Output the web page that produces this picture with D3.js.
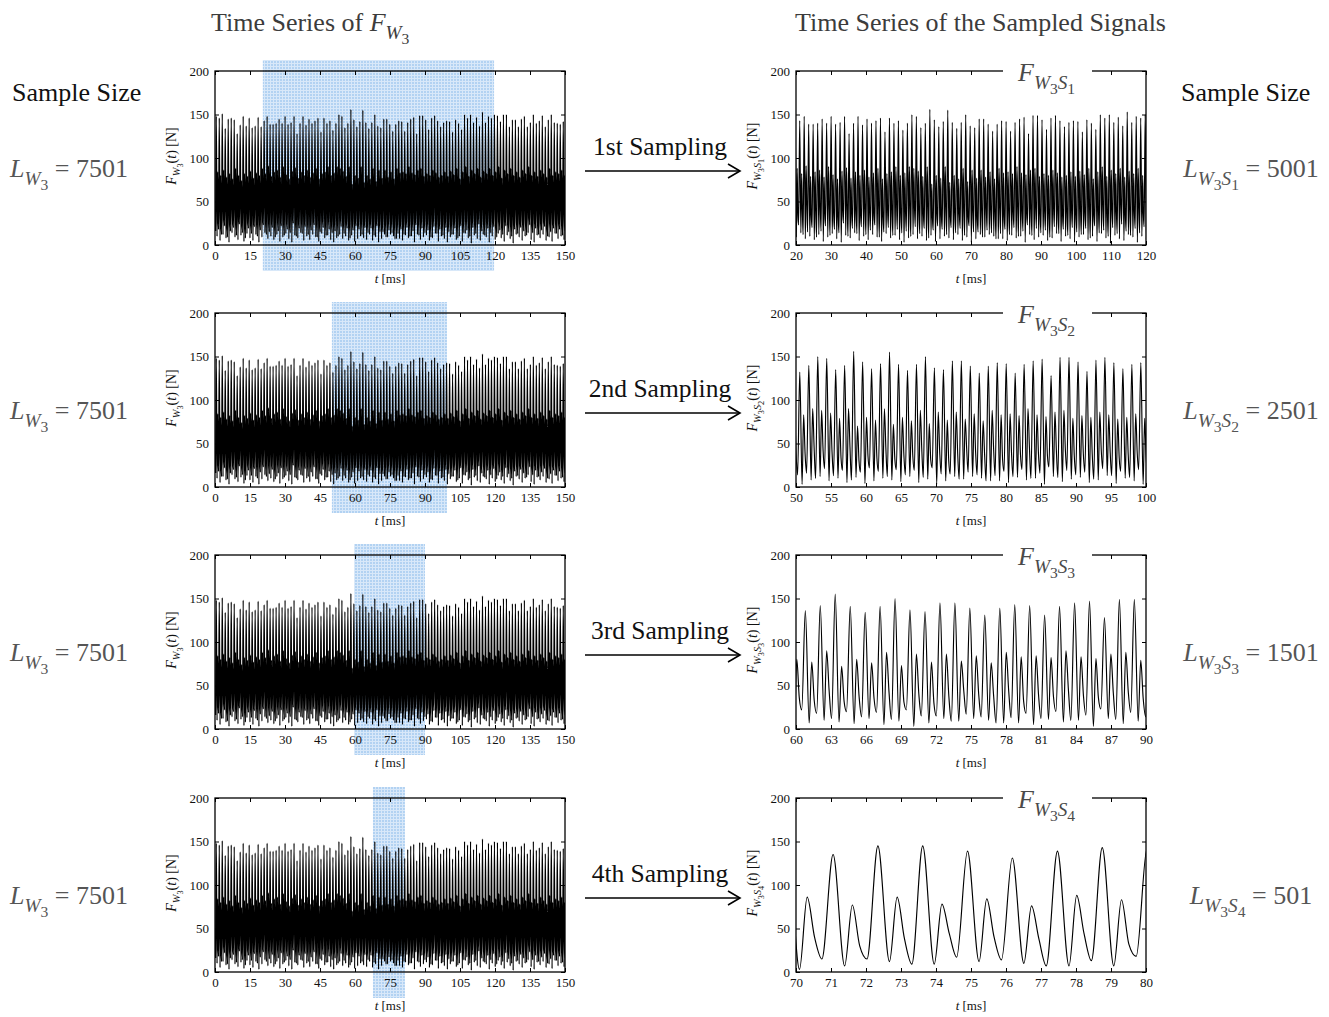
<!DOCTYPE html>
<html>
<head>
<meta charset="utf-8">
<script src="https://cdn.jsdelivr.net/npm/d3@7"></script>
<style>
  body { margin: 0; background: #fff; }
  svg { display: block; }
  text { font-family: "Liberation Serif", "Times New Roman", serif; white-space: pre; }
</style>
</head>
<body>
<svg id="chart" width="1329" height="1017"></svg>
<script>
// ---- Wheel force F_W3(t): one entry per load cycle (main peak and its neighbouring extrema) ----
const peakTime = [
  0.55, 1.83, 3.11, 4.39, 5.67, 6.96, 8.24, 9.52, 10.80, 12.08,
  13.37, 14.65, 15.93, 17.21, 18.49, 19.78, 21.06, 22.34, 23.62, 24.90,
  26.19, 27.47, 28.75, 30.03, 31.31, 32.60, 33.88, 35.16, 36.44, 37.72,
  39.01, 40.29, 41.57, 42.85, 44.13, 45.42, 46.70, 47.98, 49.26, 50.54,
  51.83, 53.11, 54.39, 55.67, 56.95, 58.24, 59.52, 60.80, 62.08, 63.36,
  64.65, 65.93, 67.21, 68.49, 69.77, 71.06, 72.34, 73.62, 74.90, 76.18,
  77.47, 78.75, 80.03, 81.31, 82.59, 83.88, 85.16, 86.44, 87.72, 89.00,
  90.29, 91.57, 92.85, 94.13, 95.41, 96.70, 97.98, 99.26, 100.54, 101.82,
  103.11, 104.39, 105.67, 106.95, 108.23, 109.52, 110.80, 112.08, 113.36, 114.64,
  115.93, 117.21, 118.49, 119.77, 121.05, 122.34, 123.62, 124.90, 126.18, 127.46,
  128.75, 130.03, 131.31, 132.59, 133.87, 135.16, 136.44, 137.72, 139.00, 140.28,
  141.57, 142.85, 144.13, 145.41, 146.69, 147.98, 149.26
];
const bigPeak = [
  148, 146, 151, 134, 145, 146, 144, 128, 138, 148,
  137, 146, 135, 137, 147, 136, 143, 148, 139, 139,
  140, 145, 140, 148, 139, 141, 148, 128, 140, 148,
  138, 145, 140, 143, 146, 130, 146, 140, 143, 132,
  140, 150, 148, 135, 140, 156, 144, 136, 142, 155,
  141, 134, 141, 150, 137, 135, 145, 145, 139, 131,
  139, 143, 142, 131, 141, 145, 147, 128, 149, 149,
  144, 133, 146, 149, 143, 136, 141, 143, 142, 130,
  144, 140, 133, 150, 146, 150, 141, 147, 137, 153,
  141, 148, 146, 150, 149, 142, 150, 150, 136, 144,
  144, 136, 145, 148, 136, 141, 150, 140, 143, 149,
  136, 144, 150, 141, 140, 139, 142
];
const lowAfterPeak = [
  10, 5, 12, 8, 3, 14, 9, 6, 11, 4,
  13, 8, 5, 12, 3, 9, 14, 7, 10, 6,
  12, 4, 9, 13, 7, 3, 11, 8, 14, 5,
  10, 6, 12, 9, 4, 13, 8, 11, 6, 3,
  8, 12, 7, 10, 5, 11, 4, 7, 10, 8,
  6, 12, 5, 9, 3, 7, 12, 9, 12, 10,
  7, 7, 5, 11, 8, 10, 3, 12, 6, 9,
  11, 5, 8, 13, 4, 10, 7, 3, 9, 12,
  6, 10, 4, 13, 8, 2, 11, 7, 5, 12,
  9, 3, 10, 6, 13, 8, 4, 11, 7, 2,
  12, 9, 5, 10, 14, 6, 3, 11, 8, 12,
  5, 9, 4, 13, 7, 10, 6
];
const minorPeak = [
  84, 80, 86, 78, 82, 76, 88, 80, 74, 82,
  79, 85, 77, 83, 80, 88, 82, 91, 79, 84,
  86, 78, 90, 81, 76, 85, 89, 77, 84, 80,
  86, 78, 83, 88, 76, 82, 84, 90, 80, 83,
  90, 88, 85, 79, 90, 70, 80, 77, 90, 72,
  80, 76, 88, 73, 86, 77, 86, 78, 84, 76,
  88, 83, 84, 82, 90, 83, 81, 86, 88, 79,
  82, 80, 86, 83, 78, 80, 84, 79, 85, 81,
  88, 76, 84, 90, 79, 86, 82, 88, 78, 85,
  82, 88, 80, 84, 90, 77, 86, 82, 88, 80,
  84, 78, 86, 82, 90, 80, 84, 79, 86, 82,
  78, 88, 80, 84, 82, 86, 80
];
const shoulder = [
  38, 32, 44, 35, 40, 30, 46, 36, 33, 42,
  35, 40, 31, 45, 37, 34, 41, 48, 33, 39,
  43, 36, 47, 34, 31, 40, 45, 35, 38, 33,
  42, 37, 34, 46, 32, 39, 41, 47, 36, 38,
  45, 42, 40, 34, 46, 30, 36, 33, 44, 32,
  37, 35, 43, 31, 40, 30, 38, 44, 40, 38,
  44, 32, 39, 37, 45, 38, 36, 41, 43, 35,
  38, 36, 42, 39, 34, 37, 40, 35, 41, 36,
  44, 33, 39, 46, 35, 42, 37, 48, 34, 40,
  38, 44, 36, 39, 45, 33, 41, 37, 43, 35,
  39, 34, 42, 38, 46, 36, 40, 35, 42, 37,
  34, 44, 36, 40, 38, 41, 36
];
const lowBeforeNext = [
  18, 12, 22, 9, 16, 20, 11, 24, 14, 8,
  19, 13, 21, 10, 17, 23, 12, 15, 20, 9,
  16, 22, 11, 18, 14, 25, 10, 19, 13, 21,
  12, 17, 23, 9, 15, 20, 11, 18, 14, 16,
  10, 21, 13, 19, 8, 17, 22, 18, 12, 20,
  14, 19, 11, 22, 15, 15, 9, 17, 14, 7,
  13, 18, 12, 20, 10, 16, 23, 11, 19, 14,
  17, 9, 21, 13, 18, 11, 20, 15, 12, 19,
  8, 22, 14, 17, 10, 20, 13, 24, 16, 11,
  19, 14, 21, 9, 17, 12, 22, 15, 10, 18,
  13, 20, 16, 11, 23, 14, 19, 12, 17, 21,
  10, 15, 19, 13, 18, 11, 16
];
// time of each extremum after the main peak of its cycle [ms]
const cyclePhase = [0, 0.33, 0.55, 0.76, 0.97];
const leadIn = [0.24, 16];

// ---- axes, windows and labels ----
const fullDomain = [0, 150];
const fullTicks = [0, 15, 30, 45, 60, 75, 90, 105, 120, 135, 150];
const yTicks = [0, 50, 100, 150, 200];
const sampleWindows = [[20, 120], [50, 100], [60, 90], [70, 80]];
// shaded band marking each window on the full series [ms]
const bandSpans = [[20.5, 119.6], [50.1, 99.4], [59.6, 90.0], [67.7, 81.4]];
const windowTicks = [
  [20, 30, 40, 50, 60, 70, 80, 90, 100, 110, 120],
  [50, 55, 60, 65, 70, 75, 80, 85, 90, 95, 100],
  [60, 63, 66, 69, 72, 75, 78, 81, 84, 87, 90],
  [70, 71, 72, 73, 74, 75, 76, 77, 78, 79, 80]
];
const samplingNames = ["1st Sampling", "2nd Sampling", "3rd Sampling", "4th Sampling"];
const fullLength = 7501;
const sampledLengths = [5001, 2501, 1501, 501];
const sampleIndex = ["1", "2", "3", "4"];

// ---- layout ----
const rowTop = [71, 313, 555, 798];
const plotH = 174;
const leftRange = [215, 565];
const rightRange = [796, 1146];

const svg = d3.select("#chart");
svg.append("rect").attr("width", 1329).attr("height", 1017).attr("fill", "#fff");
const defs = svg.append("defs");
const pat = defs.append("pattern").attr("id", "blueGrid")
  .attr("width", 3).attr("height", 3).attr("patternUnits", "userSpaceOnUse");
pat.append("rect").attr("width", 3).attr("height", 3).attr("fill", "#b2d2f2");
pat.append("path").attr("d", "M0,0.5H3M0.5,0V3").attr("stroke", "#d8e8f9").attr("stroke-width", 1);

// assemble the signal from the per-cycle extrema
const extremaSets = [bigPeak, lowAfterPeak, minorPeak, shoulder, lowBeforeNext];
const signal = [{ t: leadIn[0], v: leadIn[1] }];
peakTime.forEach((t0, k) => {
  extremaSets.forEach((arr, j) => signal.push({ t: t0 + cyclePhase[j], v: arr[k] }));
});

// text with sub / sub-sub scripts: parts = [text, level, italic]
function mathText(sel, parts, size) {
  const off = [0, 0.3, 0.5], scale = [1, 0.74, 0.6];
  let prev = 0;
  parts.forEach(([s, lvl, it]) => {
    const o = off[lvl] * size;
    sel.append("tspan")
      .attr("dy", (o - prev).toFixed(2))
      .attr("font-size", size * scale[lvl])
      .attr("font-style", it ? "italic" : "normal")
      .text(s);
    prev = o;
  });
  return sel;
}

let clipId = 0;
function panel(xRange, top, domain, ticks, yLabelParts, yLabelX, band, lineWidth) {
  const g = svg.append("g");
  const x = d3.scaleLinear().domain(domain).range(xRange);
  const y = d3.scaleLinear().domain([0, 200]).range([top + plotH, top]);

  if (band) {
    g.append("rect")
      .attr("x", x(band[0])).attr("y", top - 11)
      .attr("width", x(band[1]) - x(band[0])).attr("height", plotH + 37)
      .attr("fill", "url(#blueGrid)");
  }

  const id = "clip" + (clipId++);
  defs.append("clipPath").attr("id", id).append("rect")
    .attr("x", xRange[0]).attr("y", top).attr("width", xRange[1] - xRange[0]).attr("height", plotH);

  const pts = signal.filter(d => d.t >= domain[0] - 1.5 && d.t <= domain[1] + 1.5);
  const line = d3.line().x(d => x(d.t)).y(d => y(d.v)).curve(d3.curveMonotoneX);
  g.append("path").datum(pts)
    .attr("clip-path", `url(#${id})`)
    .attr("d", line)
    .attr("fill", "none").attr("stroke", "#000").attr("stroke-width", lineWidth)
    .attr("stroke-linejoin", "round");

  const styleAxis = a => {
    a.select(".domain").remove();
    a.selectAll(".tick line").attr("stroke", "#000").attr("stroke-width", 1);
    a.selectAll(".tick text").attr("font-family", "Liberation Serif, serif")
      .attr("font-size", 13).attr("fill", "#111");
  };
  g.append("g").attr("transform", `translate(0,${top + plotH})`)
    .call(d3.axisBottom(x).tickValues(ticks).tickSize(-4).tickPadding(6).tickFormat(d3.format("d")))
    .call(styleAxis);
  g.append("g").attr("transform", `translate(0,${top})`)
    .call(d3.axisTop(x).tickValues(ticks).tickSize(-4).tickFormat(""))
    .call(styleAxis);
  g.append("g").attr("transform", `translate(${xRange[0]},0)`)
    .call(d3.axisLeft(y).tickValues(yTicks).tickSize(-4).tickPadding(6))
    .call(styleAxis);
  g.append("g").attr("transform", `translate(${xRange[1]},0)`)
    .call(d3.axisRight(y).tickValues(yTicks).tickSize(-4).tickFormat(""))
    .call(styleAxis);

  g.append("rect")
    .attr("x", xRange[0]).attr("y", top)
    .attr("width", xRange[1] - xRange[0]).attr("height", plotH)
    .attr("fill", "none").attr("stroke", "#000").attr("stroke-width", 1.3);

  // axis titles
  mathText(g.append("text")
    .attr("x", (xRange[0] + xRange[1]) / 2).attr("y", top + plotH + 38)
    .attr("text-anchor", "middle").attr("fill", "#111"),
    [["t", 0, true], [" [ms]", 0, false]], 13);

  mathText(g.append("text")
    .attr("transform", `translate(${yLabelX},${top + plotH / 2 - 2}) rotate(-90)`)
    .attr("text-anchor", "middle").attr("fill", "#111"),
    yLabelParts, 14);

  return { g, x, y };
}

// headers
mathText(svg.append("text").attr("x", 211).attr("y", 31).attr("fill", "#3c3c3c"),
  [["Time Series of ", 0, false], ["F", 0, true], ["W", 1, true], ["3", 2, false]], 26);
svg.append("text").attr("x", 795).attr("y", 31).attr("fill", "#3c3c3c")
  .attr("font-size", 26).text("Time Series of the Sampled Signals");

// side captions
svg.append("text").attr("x", 12).attr("y", 101).attr("font-size", 26).attr("fill", "#111").text("Sample Size");
svg.append("text").attr("x", 1181).attr("y", 101).attr("font-size", 26).attr("fill", "#111").text("Sample Size");

rowTop.forEach((top, i) => {
  // full series with the sampled window shaded
  panel(leftRange, top, fullDomain, fullTicks,
    [["F", 0, true], ["W", 1, true], ["3", 2, false], ["(", 0, false], ["t", 0, true], [") [N]", 0, false]],
    176, bandSpans[i], 1.25);

  // sampled window
  const p = panel(rightRange, top, sampleWindows[i], windowTicks[i],
    [["F", 0, true], ["W", 1, true], ["3", 2, false], ["S", 1, true], [sampleIndex[i], 2, false],
     ["(", 0, false], ["t", 0, true], [") [N]", 0, false]],
    757, null, 1.15);

  // series label sitting in a gap of the top frame
  p.g.append("rect").attr("x", 1003).attr("y", top - 3).attr("width", 89).attr("height", 9).attr("fill", "#fff");
  mathText(p.g.append("text").attr("x", 1018).attr("y", top + 10).attr("fill", "#4a4a4a"),
    [["F", 0, true], ["W", 1, true], ["3", 2, false], ["S", 1, true], [sampleIndex[i], 2, false]], 26);

  // sample size of the full series
  mathText(svg.append("text").attr("x", 10).attr("y", top + 106).attr("fill", "#555"),
    [["L", 0, true], ["W", 1, true], ["3", 2, false], [" = " + fullLength, 0, false]], 26);

  // sample size of the sampled series
  mathText(svg.append("text").attr("x", 1251).attr("y", top + 106).attr("text-anchor", "middle").attr("fill", "#555"),
    [["L", 0, true], ["W", 1, true], ["3", 2, false], ["S", 1, true], [sampleIndex[i], 2, false],
     [" = " + sampledLengths[i], 0, false]], 26);

  // sampling arrow
  const ay = top + 100;
  const ag = svg.append("g").attr("stroke", "#000").attr("stroke-width", 1.6).attr("fill", "none");
  ag.append("line").attr("x1", 585).attr("x2", 740).attr("y1", ay).attr("y2", ay);
  ag.append("path").attr("d", `M${728},${ay - 7}L${740},${ay}L${728},${ay + 7}`);
  svg.append("text").attr("x", 660).attr("y", top + 84).attr("text-anchor", "middle")
    .attr("font-size", 25.5).attr("fill", "#111").text(samplingNames[i]);
});
</script>
</body>
</html>
